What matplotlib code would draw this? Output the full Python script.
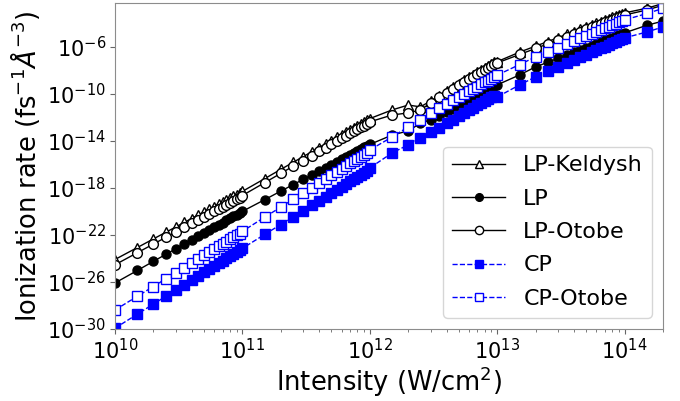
import numpy as np
from matplotlib import pyplot as plt

intensity = [1.0e10, 1.5e10, 2.0e10, 2.5e10, 3.0e10, 3.5e10, 4.0e10, 4.5e10, 5.0e10, 5.5e10, 6.0e10, 6.5e10, 7.0e10, 7.5e10, 8.0e10, 8.5e10, 9.0e10, 9.5e10,
             1.0e11, 1.5e11, 2.0e11, 2.5e11, 3.0e11, 3.5e11, 4.0e11, 4.5e11, 5.0e11, 5.5e11, 6.0e11, 6.5e11, 7.0e11, 7.5e11, 8.0e11, 8.5e11, 9.0e11, 9.5e11,
             1.0e12, 1.5e12, 2.0e12, 2.5e12, 3.0e12, 3.5e12, 4.0e12, 4.5e12, 5.0e12, 5.5e12, 6.0e12, 6.5e12, 7.0e12, 7.5e12, 8.0e12, 8.5e12, 9.0e12, 9.5e12,
             1.0e13, 1.5e13, 2.0e13, 2.5e13, 3.0e13, 3.5e13, 4.0e13, 4.5e13, 5.0e13, 5.5e13, 6.0e13, 6.5e13, 7.0e13, 7.5e13, 8.0e13, 8.5e13, 9.0e13, 9.5e13,
             1.0e14, 1.5e14, 2.0e14]

# log10 of the rates
lp_keldysh = [-24.10, -23.08, -22.35, -21.79, -21.33, -20.94, -20.61, -20.31, -20.05, -19.81, -19.59, -19.38, -19.20, -19.03, -18.86, -18.71, -18.57, -18.43,
              -18.30, -17.21, -16.43, -15.83, -15.34, -14.93, -14.57, -14.25, -13.97, -13.71, -13.48, -13.26, -13.06, -12.88, -12.70, -12.54, -12.39, -12.24,
              -12.10, -11.36, -10.95, -11.10, -10.60, -10.15, -9.75, -9.43, -9.12, -8.85, -8.60, -8.37, -8.16, -7.97, -7.79, -7.62, -7.45, -7.29,
              -7.25, -6.44, -5.93, -5.54, -5.21, -4.94, -4.70, -4.50, -4.31, -4.14, -3.99, -3.84, -3.71, -3.59, -3.48, -3.37, -3.27, -3.17,
              -3.10, -2.70, -2.30]
lp = [-26.10, -25.03, -24.26, -23.67, -23.19, -22.78, -22.43, -22.12, -21.84, -21.59, -21.35, -21.14, -20.95, -20.76, -20.59, -20.43, -20.28, -20.13,
      -20.00, -19.00, -18.28, -17.73, -17.28, -16.90, -16.57, -16.28, -16.02, -15.78, -15.57, -15.37, -15.18, -15.01, -14.85, -14.70, -14.56, -14.43,
      -14.30, -13.50, -13.15, -12.50, -12.20, -11.90, -11.55, -11.25, -10.97, -10.73, -10.50, -10.29, -10.10, -9.92, -9.75, -9.60, -9.45, -9.31,
      -9.23, -8.38, -7.70, -7.30, -6.97, -6.69, -6.45, -6.24, -6.05, -5.88, -5.72, -5.57, -5.44, -5.32, -5.20, -5.09, -4.99, -4.89,
      -4.80, -4.15, -3.80]
lp_otobe = [-24.55, -23.52, -22.79, -22.22, -21.76, -21.37, -21.03, -20.73, -20.46, -20.22, -20.00, -19.79, -19.61, -19.43, -19.27, -19.12, -18.97, -18.83,
            -18.65, -17.55, -16.77, -16.16, -15.67, -15.25, -14.89, -14.57, -14.28, -14.03, -13.79, -13.57, -13.37, -13.18, -13.01, -12.84, -12.69, -12.54,
            -12.38, -11.79, -11.62, -11.36, -10.77, -10.30, -9.91, -9.58, -9.27, -9.00, -8.75, -8.52, -8.31, -8.12, -7.94, -7.77, -7.60, -7.44,
            -7.36, -6.64, -6.13, -5.74, -5.41, -5.14, -4.90, -4.70, -4.51, -4.34, -4.19, -4.04, -3.91, -3.79, -3.68, -3.57, -3.47, -3.37,
            -3.28, -2.85, -2.45]
cp = [-29.95, -28.75, -27.90, -27.24, -26.71, -26.25, -25.86, -25.51, -25.20, -24.92, -24.66, -24.42, -24.20, -24.00, -23.81, -23.63, -23.46, -23.30,
      -23.15, -21.96, -21.12, -20.46, -19.93, -19.48, -19.09, -18.74, -18.43, -18.15, -17.90, -17.66, -17.45, -17.24, -17.05, -16.88, -16.71, -16.55,
      -16.30, -15.02, -14.34, -13.74, -13.23, -12.88, -12.51, -12.19, -11.90, -11.64, -11.40, -11.18, -10.98, -10.79, -10.61, -10.45, -10.29, -10.14,
      -10.26, -9.23, -8.55, -8.09, -7.71, -7.39, -7.12, -6.87, -6.66, -6.46, -6.28, -6.12, -5.97, -5.82, -5.69, -5.57, -5.45, -5.34,
      -5.23, -4.72, -4.30]
cp_otobe = [-28.40, -27.23, -26.40, -25.75, -25.22, -24.78, -24.39, -24.05, -23.74, -23.47, -23.22, -22.99, -22.77, -22.57, -22.39, -22.21, -22.05, -21.89,
            -21.70, -20.49, -19.64, -18.97, -18.43, -17.97, -17.58, -17.23, -16.91, -16.63, -16.37, -16.13, -15.91, -15.71, -15.51, -15.34, -15.17, -15.00,
            -14.77, -13.66, -12.81, -12.21, -11.62, -11.20, -10.85, -10.54, -10.26, -10.01, -9.78, -9.56, -9.37, -9.19, -9.02, -8.86, -8.71, -8.56,
            -8.40, -7.50, -6.85, -6.41, -6.06, -5.76, -5.50, -5.27, -5.06, -4.88, -4.70, -4.55, -4.40, -4.27, -4.14, -4.02, -3.91, -3.80,
            -3.70, -3.15, -2.72]

yticks = [1e-30, 1e-26, 1e-22, 1e-18, 1e-14, 1e-10, 1e-6]

x = np.array(intensity)

fig = plt.figure(figsize=(6.8, 4.01), dpi=100)
ax = fig.add_axes([0.169, 0.180, 0.806, 0.8125])

ax.plot(x, 10.0**np.array(lp_keldysh), '-^', color='k', mfc='w', ms=6.5, lw=1, label='LP-Keldysh')
ax.plot(x, 10.0**np.array(lp), '-o', color='k', ms=6.5, lw=1, label='LP')
ax.plot(x, 10.0**np.array(lp_otobe), '-o', color='k', mfc='w', ms=7, lw=1, label='LP-Otobe')
ax.plot(x, 10.0**np.array(cp), '--s', color='b', ms=7, lw=1, label='CP')
ax.plot(x, 10.0**np.array(cp_otobe), '--s', color='b', mfc='w', ms=7.5, lw=1, label='CP-Otobe')

ax.set_xscale('log')
ax.set_yscale('log')
ax.set_xlim(1e10, 2e14)
ax.set_ylim(1e-30, 10**-2.26)
ax.set_yticks(yticks)
ax.tick_params(labelsize=15, pad=3)
for s in ax.spines.values():
    s.set_color('0.55')
ax.tick_params(which='both', color='0.4')

ax.set_xlabel('Intensity (W/cm$^2$)', fontsize=18.5, labelpad=1)
ax.set_ylabel(r'Ionization rate (fs$^{-1}\AA^{-3}$)', fontsize=18.5)
ax.legend(loc='lower right', fontsize=16, handlelength=2.4, labelspacing=0.6,
          markerscale=0.85)

plt.savefig('out.png', dpi=100)
